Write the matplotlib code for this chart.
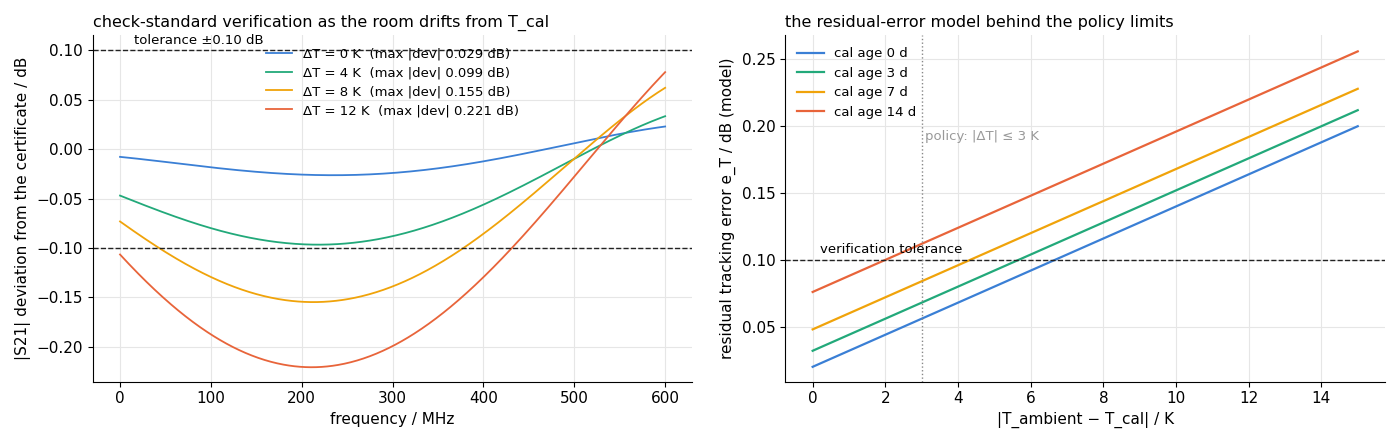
import numpy as np
import matplotlib.pyplot as plt

# left panel: deviation vs frequency
freq = [0, 50, 100, 150, 200, 250, 300, 350, 400, 450, 500, 550, 600]
dev_0k = [-0.008, -0.013, -0.018, -0.023, -0.026, -0.027, -0.024, -0.019, -0.012, -0.004, 0.006, 0.015, 0.023]
dev_4k = [-0.047, -0.065, -0.080, -0.090, -0.096, -0.096, -0.089, -0.075, -0.055, -0.033, -0.010, 0.012, 0.034]
dev_8k = [-0.072, -0.106, -0.130, -0.146, -0.153, -0.151, -0.139, -0.117, -0.087, -0.050, -0.008, 0.030, 0.061]
dev_12k = [-0.106, -0.153, -0.188, -0.210, -0.219, -0.216, -0.200, -0.170, -0.130, -0.082, -0.025, 0.025, 0.078]
left_labels = ['ΔT = 0 K  (max |dev| 0.029 dB)', 'ΔT = 4 K  (max |dev| 0.099 dB)',
               'ΔT = 8 K  (max |dev| 0.155 dB)', 'ΔT = 12 K  (max |dev| 0.221 dB)']

# right panel: model error vs temperature offset
dT = [0, 15]
err_0d = [0.020, 0.200]
err_3d = [0.032, 0.212]
err_7d = [0.048, 0.228]
err_14d = [0.076, 0.256]
right_labels = ['cal age 0 d', 'cal age 3 d', 'cal age 7 d', 'cal age 14 d']

colors = ['#3a7fd5', '#22a97a', '#f0a30a', '#e8643a']

fig, (ax1, ax2) = plt.subplots(1, 2, figsize=(14, 4.43), dpi=100)

# smooth through the read points
fs = np.linspace(0, 600, 601)
for ys, c, lab in zip([dev_0k, dev_4k, dev_8k, dev_12k], colors, left_labels):
    p = np.polyfit(np.array(freq) / 600, ys, 4)
    ax1.plot(fs, np.polyval(p, fs / 600), color=c, lw=1.3, label=lab)
for y in (0.1, -0.1):
    ax1.axhline(y, color='#222222', ls='--', lw=1)
ax1.text(15, 0.103, 'tolerance ±0.10 dB', fontsize=9.5, va='bottom')
ax1.set_xlabel('frequency / MHz', fontsize=11)
ax1.set_ylabel('|S21| deviation from the certificate / dB', fontsize=11)
ax1.set_title('check-standard verification as the room drifts from T_cal', loc='left', fontsize=11.5)
ax1.set_xlim(-30, 630)
ax1.set_ylim(-0.235, 0.115)
ax1.legend(loc='upper center', frameon=False, fontsize=9.5, labelspacing=0.45)

for ys, c, lab in zip([err_0d, err_3d, err_7d, err_14d], colors, right_labels):
    ax2.plot(dT, ys, color=c, lw=1.6, label=lab)
ax2.axhline(0.1, color='#222222', ls='--', lw=1)
ax2.text(0.2, 0.103, 'verification tolerance', fontsize=9.5, va='bottom')
ax2.axvline(3, color='#888888', ls=':', lw=1)
ax2.text(3.1, 0.19, 'policy: |ΔT| ≤ 3 K', color='#999999', fontsize=9.5)
ax2.set_xlabel('|T_ambient − T_cal| / K', fontsize=11)
ax2.set_ylabel('residual tracking error e_T / dB (model)', fontsize=11)
ax2.set_title('the residual-error model behind the policy limits', loc='left', fontsize=11.5)
ax2.set_xlim(-0.75, 15.75)
ax2.set_ylim(0.009, 0.268)
ax2.legend(loc='upper left', frameon=False, fontsize=9.5)

for ax in (ax1, ax2):
    ax.grid(True, color='#e6e6e6', lw=0.8)
    ax.set_axisbelow(True)
    ax.spines['top'].set_visible(False)
    ax.spines['right'].set_visible(False)
    ax.tick_params(labelsize=11)

plt.tight_layout(w_pad=2)
plt.savefig('out.png')
